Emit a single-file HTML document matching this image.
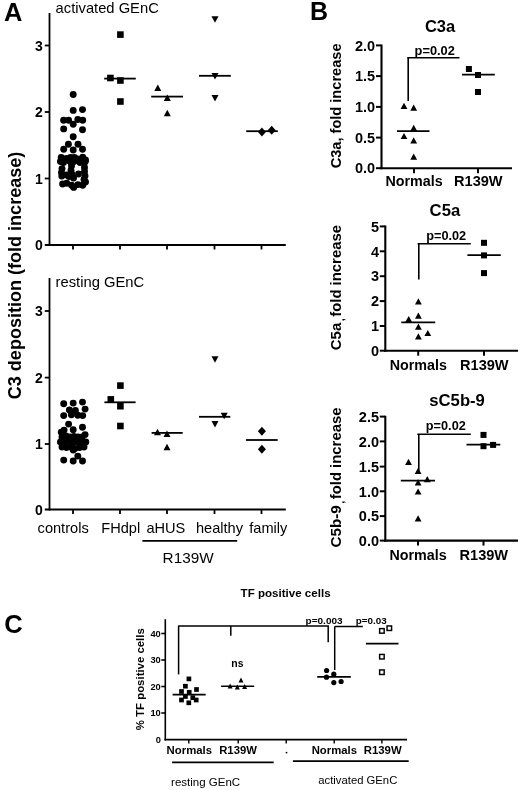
<!DOCTYPE html>
<html><head><meta charset="utf-8"><title>Figure</title>
<style>html,body{margin:0;padding:0;background:#fff;}svg{display:block;}text{font-family:"Liberation Sans",Arial,sans-serif;fill:#000;}</style>
</head><body>
<svg width="520" height="790" viewBox="0 0 520 790">
<rect width="520" height="790" fill="#fff"/>
<text x="4.0" y="20.8" font-size="25" font-weight="bold" text-anchor="start" textLength="18.4" lengthAdjust="spacingAndGlyphs">A</text>
<text x="309.9" y="20.2" font-size="25" font-weight="bold" text-anchor="start">B</text>
<text x="4.2" y="632.5" font-size="25.5" font-weight="bold" text-anchor="start">C</text>
<line x1="49.5" y1="13" x2="49.5" y2="246" stroke="#000" stroke-width="1.8"/>
<line x1="44.8" y1="245" x2="285.8" y2="245" stroke="#000" stroke-width="2.0"/>
<text x="42.8" y="250.3" font-size="14" font-weight="bold" text-anchor="end">0</text>
<line x1="44.8" y1="178.5" x2="49.5" y2="178.5" stroke="#000" stroke-width="1.8"/>
<text x="42.8" y="183.8" font-size="14" font-weight="bold" text-anchor="end">1</text>
<line x1="44.8" y1="112.0" x2="49.5" y2="112.0" stroke="#000" stroke-width="1.8"/>
<text x="42.8" y="117.3" font-size="14" font-weight="bold" text-anchor="end">2</text>
<line x1="44.8" y1="45.5" x2="49.5" y2="45.5" stroke="#000" stroke-width="1.8"/>
<text x="42.8" y="50.8" font-size="14" font-weight="bold" text-anchor="end">3</text>
<line x1="73" y1="245" x2="73" y2="249.5" stroke="#000" stroke-width="1.8"/>
<line x1="120" y1="245" x2="120" y2="249.5" stroke="#000" stroke-width="1.8"/>
<line x1="167" y1="245" x2="167" y2="249.5" stroke="#000" stroke-width="1.8"/>
<line x1="214.5" y1="245" x2="214.5" y2="249.5" stroke="#000" stroke-width="1.8"/>
<line x1="261.5" y1="245" x2="261.5" y2="249.5" stroke="#000" stroke-width="1.8"/>
<text x="55.6" y="12.7" font-size="14.6" text-anchor="start" textLength="103.2" lengthAdjust="spacingAndGlyphs">activated GEnC</text>
<line x1="49.5" y1="278" x2="49.5" y2="510.5" stroke="#000" stroke-width="1.8"/>
<line x1="44.8" y1="509.5" x2="285.8" y2="509.5" stroke="#000" stroke-width="2.0"/>
<text x="42.8" y="514.8" font-size="14" font-weight="bold" text-anchor="end">0</text>
<line x1="44.8" y1="444" x2="49.5" y2="444" stroke="#000" stroke-width="1.8"/>
<text x="42.8" y="449.3" font-size="14" font-weight="bold" text-anchor="end">1</text>
<line x1="44.8" y1="377.6" x2="49.5" y2="377.6" stroke="#000" stroke-width="1.8"/>
<text x="42.8" y="382.90000000000003" font-size="14" font-weight="bold" text-anchor="end">2</text>
<line x1="44.8" y1="311" x2="49.5" y2="311" stroke="#000" stroke-width="1.8"/>
<text x="42.8" y="316.3" font-size="14" font-weight="bold" text-anchor="end">3</text>
<line x1="73" y1="509.5" x2="73" y2="514.0" stroke="#000" stroke-width="1.8"/>
<line x1="120" y1="509.5" x2="120" y2="514.0" stroke="#000" stroke-width="1.8"/>
<line x1="167" y1="509.5" x2="167" y2="514.0" stroke="#000" stroke-width="1.8"/>
<line x1="214.5" y1="509.5" x2="214.5" y2="514.0" stroke="#000" stroke-width="1.8"/>
<line x1="261.5" y1="509.5" x2="261.5" y2="514.0" stroke="#000" stroke-width="1.8"/>
<text x="55.6" y="287.2" font-size="14.6" text-anchor="start" textLength="88.6" lengthAdjust="spacingAndGlyphs">resting GEnC</text>
<text x="20.8" y="399.2" font-size="18" font-weight="bold" text-anchor="start" textLength="247.5" lengthAdjust="spacingAndGlyphs" transform="rotate(-90 20.8 399.2)">C3 deposition (fold increase)</text>
<circle cx="73.2" cy="94.5" r="3.45"/>
<circle cx="73.2" cy="110.4" r="3.45"/>
<circle cx="82.5" cy="109.6" r="3.45"/>
<circle cx="63.6" cy="120.3" r="3.45"/>
<circle cx="68.6" cy="120.3" r="3.45"/>
<circle cx="77.8" cy="119.5" r="3.45"/>
<circle cx="82.7" cy="120.3" r="3.45"/>
<circle cx="73.2" cy="124.3" r="3.45"/>
<circle cx="63.7" cy="128.9" r="3.45"/>
<circle cx="82.5" cy="129.7" r="3.45"/>
<circle cx="73.2" cy="136.8" r="3.45"/>
<circle cx="68.4" cy="144.2" r="3.45"/>
<circle cx="78" cy="144.2" r="3.45"/>
<circle cx="63.7" cy="149.2" r="3.45"/>
<circle cx="73.2" cy="150" r="3.45"/>
<circle cx="82.5" cy="149.2" r="3.45"/>
<circle cx="61.2" cy="157.5" r="3.45"/>
<circle cx="66.5" cy="158.5" r="3.45"/>
<circle cx="70.5" cy="157.5" r="3.45"/>
<circle cx="74.5" cy="157.5" r="3.45"/>
<circle cx="77.5" cy="159" r="3.45"/>
<circle cx="82.7" cy="157.2" r="3.45"/>
<circle cx="85.5" cy="160" r="3.45"/>
<circle cx="60.5" cy="161.5" r="3.45"/>
<circle cx="63.5" cy="162.5" r="3.45"/>
<circle cx="70" cy="161.5" r="3.45"/>
<circle cx="74" cy="161.5" r="3.45"/>
<circle cx="80" cy="162.5" r="3.45"/>
<circle cx="85" cy="162" r="3.45"/>
<circle cx="62" cy="168.6" r="3.45"/>
<circle cx="61.5" cy="172.5" r="3.45"/>
<circle cx="61.8" cy="176" r="3.45"/>
<circle cx="71.5" cy="166" r="3.45"/>
<circle cx="71" cy="170.5" r="3.45"/>
<circle cx="72" cy="174.5" r="3.45"/>
<circle cx="69" cy="176.5" r="3.45"/>
<circle cx="73.5" cy="178" r="3.45"/>
<circle cx="66.5" cy="175" r="3.45"/>
<circle cx="84.5" cy="167.5" r="3.45"/>
<circle cx="84.5" cy="171.5" r="3.45"/>
<circle cx="85" cy="176" r="3.45"/>
<circle cx="84" cy="179.5" r="3.45"/>
<circle cx="78.5" cy="174" r="3.45"/>
<circle cx="62.6" cy="184" r="3.45"/>
<circle cx="66.8" cy="183.2" r="3.45"/>
<circle cx="71.6" cy="185.3" r="3.45"/>
<circle cx="73.7" cy="187.4" r="3.45"/>
<circle cx="77.9" cy="184.6" r="3.45"/>
<circle cx="82.7" cy="185.3" r="3.45"/>
<circle cx="85.5" cy="182" r="3.45"/>
<line x1="57.3" y1="161.5" x2="88.8" y2="161.5" stroke="#000" stroke-width="1.8"/>
<rect x="117.10" y="31.30" width="6.6" height="6.6"/>
<rect x="107.10" y="74.70" width="6.6" height="6.6"/>
<rect x="117.10" y="77.20" width="6.6" height="6.6"/>
<rect x="117.10" y="98.20" width="6.6" height="6.6"/>
<line x1="104.2" y1="78.6" x2="135.8" y2="78.6" stroke="#000" stroke-width="1.8"/>
<polygon points="157.8,84.5 161.3,90.9 154.3,90.9"/>
<polygon points="167.3,94.5 170.8,100.9 163.8,100.9"/>
<polygon points="167.3,109.8 170.8,116.2 163.8,116.2"/>
<line x1="151.2" y1="96.6" x2="183" y2="96.6" stroke="#000" stroke-width="1.8"/>
<polygon points="215,22.7 218.5,16.3 211.5,16.3"/>
<polygon points="215,79.4 218.5,73.0 211.5,73.0"/>
<polygon points="215,101.4 218.5,95.0 211.5,95.0"/>
<line x1="199" y1="75.8" x2="230.8" y2="75.8" stroke="#000" stroke-width="1.8"/>
<polygon points="261.9,127.5 265.9,132 261.9,136.5 257.9,132"/>
<polygon points="271.7,125.80000000000001 275.7,130.3 271.7,134.8 267.7,130.3"/>
<line x1="246.2" y1="131.2" x2="277.8" y2="131.2" stroke="#000" stroke-width="1.8"/>
<circle cx="63.7" cy="403.7" r="3.45"/>
<circle cx="73.2" cy="403.1" r="3.45"/>
<circle cx="82.5" cy="402.1" r="3.45"/>
<circle cx="85.1" cy="409.1" r="3.45"/>
<circle cx="69.4" cy="410" r="3.45"/>
<circle cx="75.4" cy="410.5" r="3.45"/>
<circle cx="63.7" cy="415.6" r="3.45"/>
<circle cx="71.4" cy="414.8" r="3.45"/>
<circle cx="77.8" cy="415.2" r="3.45"/>
<circle cx="82.7" cy="415.6" r="3.45"/>
<circle cx="68.6" cy="424.1" r="3.45"/>
<circle cx="82.5" cy="427.3" r="3.45"/>
<circle cx="61.3" cy="432.2" r="3.45"/>
<circle cx="64.1" cy="430.1" r="3.45"/>
<circle cx="73.2" cy="429.7" r="3.45"/>
<circle cx="85.1" cy="434.6" r="3.45"/>
<circle cx="62" cy="437" r="3.45"/>
<circle cx="66" cy="436" r="3.45"/>
<circle cx="70" cy="437" r="3.45"/>
<circle cx="74" cy="436.5" r="3.45"/>
<circle cx="78" cy="437" r="3.45"/>
<circle cx="82" cy="437" r="3.45"/>
<circle cx="60.5" cy="442" r="3.45"/>
<circle cx="65" cy="442" r="3.45"/>
<circle cx="69.5" cy="441.5" r="3.45"/>
<circle cx="74" cy="442" r="3.45"/>
<circle cx="78.5" cy="442" r="3.45"/>
<circle cx="83" cy="442" r="3.45"/>
<circle cx="85.8" cy="442" r="3.45"/>
<circle cx="62" cy="447" r="3.45"/>
<circle cx="66.5" cy="447.5" r="3.45"/>
<circle cx="71" cy="447" r="3.45"/>
<circle cx="75" cy="448.5" r="3.45"/>
<circle cx="79.5" cy="447.5" r="3.45"/>
<circle cx="84" cy="447" r="3.45"/>
<circle cx="73.2" cy="450" r="3.45"/>
<circle cx="63.7" cy="460.1" r="3.45"/>
<circle cx="73.2" cy="461" r="3.45"/>
<circle cx="77.8" cy="456.1" r="3.45"/>
<circle cx="82.5" cy="461" r="3.45"/>
<line x1="57.3" y1="442.6" x2="88.8" y2="442.6" stroke="#000" stroke-width="1.8"/>
<rect x="117.10" y="382.30" width="6.6" height="6.6"/>
<rect x="107.50" y="396.10" width="6.6" height="6.6"/>
<rect x="117.10" y="402.90" width="6.6" height="6.6"/>
<rect x="117.10" y="422.70" width="6.6" height="6.6"/>
<line x1="104.4" y1="402.3" x2="135.6" y2="402.3" stroke="#000" stroke-width="1.8"/>
<polygon points="157.5,428.8 161.0,435.2 154.0,435.2"/>
<polygon points="167,430.5 170.5,436.9 163.5,436.9"/>
<polygon points="167,443.8 170.5,450.2 163.5,450.2"/>
<line x1="151.6" y1="432.9" x2="182.7" y2="432.9" stroke="#000" stroke-width="1.8"/>
<polygon points="215,362.7 218.5,356.3 211.5,356.3"/>
<polygon points="224.2,419.2 227.7,412.8 220.7,412.8"/>
<polygon points="215,427.4 218.5,421.0 211.5,421.0"/>
<line x1="199" y1="416.8" x2="230.3" y2="416.8" stroke="#000" stroke-width="1.8"/>
<polygon points="261.9,426.8 265.9,431.3 261.9,435.8 257.9,431.3"/>
<polygon points="261.9,444.7 265.9,449.2 261.9,453.7 257.9,449.2"/>
<line x1="246" y1="440" x2="277.7" y2="440" stroke="#000" stroke-width="1.8"/>
<text x="37.6" y="532.8" font-size="14.6" text-anchor="start" textLength="51.1" lengthAdjust="spacingAndGlyphs">controls</text>
<text x="101.3" y="532.8" font-size="14.6" text-anchor="start" textLength="38.9" lengthAdjust="spacingAndGlyphs">FHdpl</text>
<text x="146.4" y="532.8" font-size="14.6" text-anchor="start" textLength="38.9" lengthAdjust="spacingAndGlyphs">aHUS</text>
<text x="196.0" y="532.8" font-size="14.6" text-anchor="start" textLength="47.0" lengthAdjust="spacingAndGlyphs">healthy</text>
<text x="249.3" y="532.8" font-size="14.6" text-anchor="start" textLength="38.1" lengthAdjust="spacingAndGlyphs">family</text>
<line x1="142.4" y1="540.9" x2="237.2" y2="540.9" stroke="#000" stroke-width="1.8"/>
<text x="162.6" y="562.7" font-size="15" text-anchor="start" textLength="51" lengthAdjust="spacingAndGlyphs">R139W</text>
<line x1="381.5" y1="44.6" x2="381.5" y2="169.2" stroke="#000" stroke-width="2.1"/>
<line x1="380.5" y1="168.2" x2="512" y2="168.2" stroke="#000" stroke-width="2.1"/>
<line x1="376.0" y1="45.4" x2="381.5" y2="45.4" stroke="#000" stroke-width="2.0"/>
<text x="375.2" y="50.6" font-size="14.5" font-weight="bold" text-anchor="end">2.0</text>
<line x1="376.0" y1="76.1" x2="381.5" y2="76.1" stroke="#000" stroke-width="2.0"/>
<text x="375.2" y="81.3" font-size="14.5" font-weight="bold" text-anchor="end">1.5</text>
<line x1="376.0" y1="106.9" x2="381.5" y2="106.9" stroke="#000" stroke-width="2.0"/>
<text x="375.2" y="112.10000000000001" font-size="14.5" font-weight="bold" text-anchor="end">1.0</text>
<line x1="376.0" y1="137.6" x2="381.5" y2="137.6" stroke="#000" stroke-width="2.0"/>
<text x="375.2" y="142.79999999999998" font-size="14.5" font-weight="bold" text-anchor="end">0.5</text>
<line x1="376.0" y1="168.2" x2="381.5" y2="168.2" stroke="#000" stroke-width="2.0"/>
<text x="375.2" y="173.39999999999998" font-size="14.5" font-weight="bold" text-anchor="end">0.0</text>
<line x1="414" y1="168.2" x2="414" y2="173.2" stroke="#000" stroke-width="2.0"/>
<line x1="478" y1="168.2" x2="478" y2="173.2" stroke="#000" stroke-width="2.0"/>
<text x="424.9" y="32.3" font-size="16.5" font-weight="bold" text-anchor="start" textLength="30.3" lengthAdjust="spacingAndGlyphs">C3a</text>
<text x="341.3" y="168.3" font-size="14.5" font-weight="bold" text-anchor="start" textLength="124.8" lengthAdjust="spacingAndGlyphs" transform="rotate(-90 341.3 168.3)">C3a, fold increase</text>
<text x="385.5" y="186.4" font-size="14.3" font-weight="bold" text-anchor="start" textLength="57.2" lengthAdjust="spacingAndGlyphs">Normals</text>
<text x="454" y="186.4" font-size="14.3" font-weight="bold" text-anchor="start" textLength="48.6" lengthAdjust="spacingAndGlyphs">R139W</text>
<polygon points="404,102.7 407.4,108.89999999999999 400.6,108.89999999999999"/>
<polygon points="413.7,104.60000000000001 417.09999999999997,110.8 410.3,110.8"/>
<polygon points="413.7,124.80000000000001 417.09999999999997,131.0 410.3,131.0"/>
<polygon points="404,132.9 407.4,139.1 400.6,139.1"/>
<polygon points="413.7,137.3 417.09999999999997,143.5 410.3,143.5"/>
<polygon points="413.7,153.6 417.09999999999997,159.79999999999998 410.3,159.79999999999998"/>
<line x1="397" y1="131.2" x2="429.5" y2="131.2" stroke="#000" stroke-width="1.8"/>
<rect x="465.90" y="66.00" width="6.0" height="6.0"/>
<rect x="475.00" y="72.00" width="6.0" height="6.0"/>
<rect x="475.00" y="89.00" width="6.0" height="6.0"/>
<line x1="462" y1="74.7" x2="494.8" y2="74.7" stroke="#000" stroke-width="1.8"/>
<line x1="407.3" y1="57.8" x2="459.5" y2="57.8" stroke="#000" stroke-width="1.6"/>
<line x1="408.2" y1="57.8" x2="408.2" y2="101" stroke="#000" stroke-width="1.6"/>
<text x="414.6" y="54.8" font-size="12" font-weight="bold" text-anchor="start" textLength="40.2" lengthAdjust="spacingAndGlyphs">p=0.02</text>
<line x1="385.3" y1="225.5" x2="385.3" y2="351.7" stroke="#000" stroke-width="2.1"/>
<line x1="384.3" y1="350.7" x2="518" y2="350.7" stroke="#000" stroke-width="2.1"/>
<line x1="379.8" y1="226.4" x2="385.3" y2="226.4" stroke="#000" stroke-width="2.0"/>
<text x="379.0" y="231.6" font-size="14.5" font-weight="bold" text-anchor="end">5</text>
<line x1="379.8" y1="251.3" x2="385.3" y2="251.3" stroke="#000" stroke-width="2.0"/>
<text x="379.0" y="256.5" font-size="14.5" font-weight="bold" text-anchor="end">4</text>
<line x1="379.8" y1="276.2" x2="385.3" y2="276.2" stroke="#000" stroke-width="2.0"/>
<text x="379.0" y="281.4" font-size="14.5" font-weight="bold" text-anchor="end">3</text>
<line x1="379.8" y1="301.1" x2="385.3" y2="301.1" stroke="#000" stroke-width="2.0"/>
<text x="379.0" y="306.3" font-size="14.5" font-weight="bold" text-anchor="end">2</text>
<line x1="379.8" y1="326" x2="385.3" y2="326" stroke="#000" stroke-width="2.0"/>
<text x="379.0" y="331.2" font-size="14.5" font-weight="bold" text-anchor="end">1</text>
<line x1="379.8" y1="350.7" x2="385.3" y2="350.7" stroke="#000" stroke-width="2.0"/>
<text x="379.0" y="355.9" font-size="14.5" font-weight="bold" text-anchor="end">0</text>
<line x1="418.2" y1="350.7" x2="418.2" y2="355.7" stroke="#000" stroke-width="2.0"/>
<line x1="484" y1="350.7" x2="484" y2="355.7" stroke="#000" stroke-width="2.0"/>
<text x="429.6" y="216.3" font-size="16.5" font-weight="bold" text-anchor="start" textLength="30.6" lengthAdjust="spacingAndGlyphs">C5a</text>
<text x="341.3" y="350.2" font-size="14.5" font-weight="bold" text-anchor="start" textLength="27.4" lengthAdjust="spacingAndGlyphs" transform="rotate(-90 341.3 350.2)">C5a</text>
<text x="344.2" y="321.3" font-size="11" font-weight="bold" transform="rotate(-90 344.2 321.3)">,</text>
<text x="341.3" y="316.8" font-size="14.5" font-weight="bold" text-anchor="start" textLength="91.8" lengthAdjust="spacingAndGlyphs" transform="rotate(-90 341.3 316.8)">fold increase</text>
<text x="389.7" y="369.7" font-size="14.3" font-weight="bold" text-anchor="start" textLength="57.2" lengthAdjust="spacingAndGlyphs">Normals</text>
<text x="460" y="369.7" font-size="14.3" font-weight="bold" text-anchor="start" textLength="48.6" lengthAdjust="spacingAndGlyphs">R139W</text>
<polygon points="418.4,298.29999999999995 421.79999999999995,304.5 415.0,304.5"/>
<polygon points="418.4,312.5 421.79999999999995,318.70000000000005 415.0,318.70000000000005"/>
<polygon points="408.7,315.9 412.09999999999997,322.1 405.3,322.1"/>
<polygon points="418.4,323.5 421.79999999999995,329.70000000000005 415.0,329.70000000000005"/>
<polygon points="427.8,329.9 431.2,336.1 424.40000000000003,336.1"/>
<polygon points="418.4,333.29999999999995 421.79999999999995,339.5 415.0,339.5"/>
<line x1="401.3" y1="322.3" x2="435.2" y2="322.3" stroke="#000" stroke-width="1.8"/>
<rect x="481.00" y="239.80" width="6.0" height="6.0"/>
<rect x="481.00" y="252.40" width="6.0" height="6.0"/>
<rect x="481.00" y="270.10" width="6.0" height="6.0"/>
<line x1="467.4" y1="255.2" x2="500.8" y2="255.2" stroke="#000" stroke-width="1.8"/>
<line x1="417.6" y1="243.8" x2="470.8" y2="243.8" stroke="#000" stroke-width="1.6"/>
<line x1="418.8" y1="243.8" x2="418.8" y2="279.5" stroke="#000" stroke-width="1.6"/>
<text x="426.2" y="239.8" font-size="12" font-weight="bold" text-anchor="start" textLength="40" lengthAdjust="spacingAndGlyphs">p=0.02</text>
<line x1="385.3" y1="415.8" x2="385.3" y2="541.6" stroke="#000" stroke-width="2.1"/>
<line x1="384.3" y1="540.6" x2="518" y2="540.6" stroke="#000" stroke-width="2.1"/>
<line x1="379.8" y1="416.6" x2="385.3" y2="416.6" stroke="#000" stroke-width="2.0"/>
<text x="379.0" y="421.8" font-size="14.5" font-weight="bold" text-anchor="end">2.5</text>
<line x1="379.8" y1="441.4" x2="385.3" y2="441.4" stroke="#000" stroke-width="2.0"/>
<text x="379.0" y="446.59999999999997" font-size="14.5" font-weight="bold" text-anchor="end">2.0</text>
<line x1="379.8" y1="466.6" x2="385.3" y2="466.6" stroke="#000" stroke-width="2.0"/>
<text x="379.0" y="471.8" font-size="14.5" font-weight="bold" text-anchor="end">1.5</text>
<line x1="379.8" y1="491.3" x2="385.3" y2="491.3" stroke="#000" stroke-width="2.0"/>
<text x="379.0" y="496.5" font-size="14.5" font-weight="bold" text-anchor="end">1.0</text>
<line x1="379.8" y1="516.1" x2="385.3" y2="516.1" stroke="#000" stroke-width="2.0"/>
<text x="379.0" y="521.3000000000001" font-size="14.5" font-weight="bold" text-anchor="end">0.5</text>
<line x1="379.8" y1="540.6" x2="385.3" y2="540.6" stroke="#000" stroke-width="2.0"/>
<text x="379.0" y="545.8000000000001" font-size="14.5" font-weight="bold" text-anchor="end">0.0</text>
<line x1="418" y1="540.6" x2="418" y2="545.6" stroke="#000" stroke-width="2.0"/>
<line x1="483.5" y1="540.6" x2="483.5" y2="545.6" stroke="#000" stroke-width="2.0"/>
<text x="429.3" y="406.3" font-size="16.5" font-weight="bold" text-anchor="start" textLength="55.6" lengthAdjust="spacingAndGlyphs">sC5b-9</text>
<text x="341.3" y="547.5" font-size="14.5" font-weight="bold" text-anchor="start" textLength="42.2" lengthAdjust="spacingAndGlyphs" transform="rotate(-90 341.3 547.5)">C5b-9</text>
<text x="344.2" y="503.8" font-size="11" font-weight="bold" transform="rotate(-90 344.2 503.8)">,</text>
<text x="341.3" y="499.3" font-size="14.5" font-weight="bold" text-anchor="start" textLength="91.8" lengthAdjust="spacingAndGlyphs" transform="rotate(-90 341.3 499.3)">fold increase</text>
<text x="389.5" y="559.6" font-size="14.3" font-weight="bold" text-anchor="start" textLength="57.2" lengthAdjust="spacingAndGlyphs">Normals</text>
<text x="459.5" y="559.6" font-size="14.3" font-weight="bold" text-anchor="start" textLength="48.6" lengthAdjust="spacingAndGlyphs">R139W</text>
<polygon points="408.5,458.7 411.9,464.90000000000003 405.1,464.90000000000003"/>
<polygon points="418.1,467.7 421.5,473.90000000000003 414.70000000000005,473.90000000000003"/>
<polygon points="427.3,476.09999999999997 430.7,482.3 423.90000000000003,482.3"/>
<polygon points="418.1,479.2 421.5,485.40000000000003 414.70000000000005,485.40000000000003"/>
<polygon points="418.1,488.4 421.5,494.6 414.70000000000005,494.6"/>
<polygon points="418.1,515.1999999999999 421.5,521.4 414.70000000000005,521.4"/>
<line x1="400.8" y1="480.6" x2="435" y2="480.6" stroke="#000" stroke-width="1.8"/>
<rect x="480.50" y="431.90" width="6.0" height="6.0"/>
<rect x="480.50" y="443.20" width="6.0" height="6.0"/>
<rect x="490.10" y="441.90" width="6.0" height="6.0"/>
<line x1="466.5" y1="444.6" x2="500.3" y2="444.6" stroke="#000" stroke-width="1.8"/>
<line x1="417.3" y1="434.2" x2="470.8" y2="434.2" stroke="#000" stroke-width="1.6"/>
<line x1="418.8" y1="434.2" x2="418.8" y2="470.8" stroke="#000" stroke-width="1.6"/>
<text x="425.8" y="430.2" font-size="12" font-weight="bold" text-anchor="start" textLength="40" lengthAdjust="spacingAndGlyphs">p=0.02</text>
<text x="240.6" y="596.6" font-size="11.5" font-weight="bold" text-anchor="start" textLength="90" lengthAdjust="spacingAndGlyphs">TF positive cells</text>
<line x1="165.3" y1="619.2" x2="165.3" y2="740.5" stroke="#000" stroke-width="1.6"/>
<line x1="164.5" y1="739.6" x2="407" y2="739.6" stroke="#000" stroke-width="1.6"/>
<line x1="161.3" y1="633.5" x2="165.3" y2="633.5" stroke="#000" stroke-width="1.6"/>
<text x="160.8" y="636.8" font-size="9.3" font-weight="bold" text-anchor="end">40</text>
<line x1="161.3" y1="660.0" x2="165.3" y2="660.0" stroke="#000" stroke-width="1.6"/>
<text x="160.8" y="663.3" font-size="9.3" font-weight="bold" text-anchor="end">30</text>
<line x1="161.3" y1="686.5" x2="165.3" y2="686.5" stroke="#000" stroke-width="1.6"/>
<text x="160.8" y="689.8" font-size="9.3" font-weight="bold" text-anchor="end">20</text>
<line x1="161.3" y1="713.0" x2="165.3" y2="713.0" stroke="#000" stroke-width="1.6"/>
<text x="160.8" y="716.3" font-size="9.3" font-weight="bold" text-anchor="end">10</text>
<text x="160.8" y="742.8" font-size="9.3" font-weight="bold" text-anchor="end">0</text>
<text x="144.5" y="730.2" font-size="11.3" font-weight="bold" text-anchor="start" textLength="102" lengthAdjust="spacingAndGlyphs" transform="rotate(-90 144.5 730.2)">% TF positive cells</text>
<line x1="188.8" y1="739.6" x2="188.8" y2="743.5" stroke="#000" stroke-width="1.4"/>
<line x1="238.2" y1="739.6" x2="238.2" y2="743.5" stroke="#000" stroke-width="1.4"/>
<line x1="286.2" y1="739.6" x2="286.2" y2="743.5" stroke="#000" stroke-width="1.4"/>
<line x1="334.2" y1="739.6" x2="334.2" y2="743.5" stroke="#000" stroke-width="1.4"/>
<line x1="381.9" y1="739.6" x2="381.9" y2="743.5" stroke="#000" stroke-width="1.4"/>
<text x="166.6" y="754.2" font-size="11.3" font-weight="bold" text-anchor="start" textLength="45.5" lengthAdjust="spacingAndGlyphs">Normals</text>
<text x="219.2" y="754.2" font-size="11.3" font-weight="bold" text-anchor="start" textLength="37.7" lengthAdjust="spacingAndGlyphs">R139W</text>
<text x="311.7" y="753.9" font-size="11.3" font-weight="bold" text-anchor="start" textLength="45.3" lengthAdjust="spacingAndGlyphs">Normals</text>
<text x="363.7" y="753.9" font-size="11.3" font-weight="bold" text-anchor="start" textLength="38" lengthAdjust="spacingAndGlyphs">R139W</text>
<circle cx="286.5" cy="752.6" r="0.9"/>
<line x1="172.1" y1="762.3" x2="273.7" y2="762.3" stroke="#000" stroke-width="1.8"/>
<line x1="292.9" y1="761.1" x2="408.7" y2="761.1" stroke="#000" stroke-width="1.8"/>
<text x="171.1" y="785.5" font-size="11.5" text-anchor="start" textLength="69" lengthAdjust="spacingAndGlyphs">resting GEnC</text>
<text x="318.3" y="783.7" font-size="11.5" text-anchor="start" textLength="79" lengthAdjust="spacingAndGlyphs">activated GEnC</text>
<rect x="186.55" y="676.55" width="4.7" height="4.7"/>
<rect x="183.05" y="683.85" width="4.7" height="4.7"/>
<rect x="194.15" y="687.15" width="4.7" height="4.7"/>
<rect x="179.15" y="689.15" width="4.7" height="4.7"/>
<rect x="186.85" y="689.95" width="4.7" height="4.7"/>
<rect x="183.05" y="694.15" width="4.7" height="4.7"/>
<rect x="190.45" y="695.35" width="4.7" height="4.7"/>
<rect x="179.15" y="697.65" width="4.7" height="4.7"/>
<rect x="193.85" y="697.65" width="4.7" height="4.7"/>
<rect x="186.45" y="700.45" width="4.7" height="4.7"/>
<line x1="172.6" y1="694.6" x2="205.7" y2="694.6" stroke="#000" stroke-width="1.6"/>
<polygon points="241,677.6 243.5,682.6 238.5,682.6"/>
<polygon points="230.1,683.6 232.6,688.6 227.6,688.6"/>
<polygon points="237.3,684.6 239.8,689.6 234.8,689.6"/>
<polygon points="244.6,684.1 247.1,689.1 242.1,689.1"/>
<line x1="221.1" y1="686.2" x2="254.2" y2="686.2" stroke="#000" stroke-width="1.6"/>
<text x="231.3" y="667" font-size="10.6" font-weight="bold" text-anchor="start" textLength="12.2" lengthAdjust="spacingAndGlyphs">ns</text>
<circle cx="326.6" cy="670.5" r="2.6"/>
<circle cx="333.8" cy="674.2" r="2.6"/>
<circle cx="326.5" cy="677.2" r="2.6"/>
<circle cx="333.8" cy="682.6" r="2.6"/>
<circle cx="341.1" cy="681.5" r="2.6"/>
<line x1="317.2" y1="676.9" x2="350.8" y2="676.9" stroke="#000" stroke-width="1.6"/>
<rect x="379.62" y="628.62" width="4.55" height="4.55" fill="none" stroke="#000" stroke-width="1.45"/>
<rect x="387.03" y="625.93" width="4.55" height="4.55" fill="none" stroke="#000" stroke-width="1.45"/>
<rect x="379.62" y="654.43" width="4.55" height="4.55" fill="none" stroke="#000" stroke-width="1.45"/>
<rect x="379.62" y="669.93" width="4.55" height="4.55" fill="none" stroke="#000" stroke-width="1.45"/>
<line x1="365.9" y1="643.6" x2="398.5" y2="643.6" stroke="#000" stroke-width="1.6"/>
<line x1="178.1" y1="626" x2="328.9" y2="626" stroke="#000" stroke-width="1.5"/>
<line x1="178.6" y1="626" x2="178.6" y2="674.4" stroke="#000" stroke-width="1.5"/>
<line x1="230.8" y1="626" x2="230.8" y2="635.8" stroke="#000" stroke-width="1.5"/>
<line x1="328.2" y1="626" x2="328.2" y2="642.3" stroke="#000" stroke-width="1.5"/>
<line x1="334.7" y1="626.5" x2="362.8" y2="626.5" stroke="#000" stroke-width="1.5"/>
<line x1="334.7" y1="626.5" x2="334.7" y2="670" stroke="#000" stroke-width="1.5"/>
<text x="305.6" y="623.9" font-size="8.8" font-weight="bold" text-anchor="start" textLength="37" lengthAdjust="spacingAndGlyphs">p=0.003</text>
<text x="355.8" y="623.5" font-size="8.8" font-weight="bold" text-anchor="start" textLength="31" lengthAdjust="spacingAndGlyphs">p=0.03</text>
</svg>
</body></html>
